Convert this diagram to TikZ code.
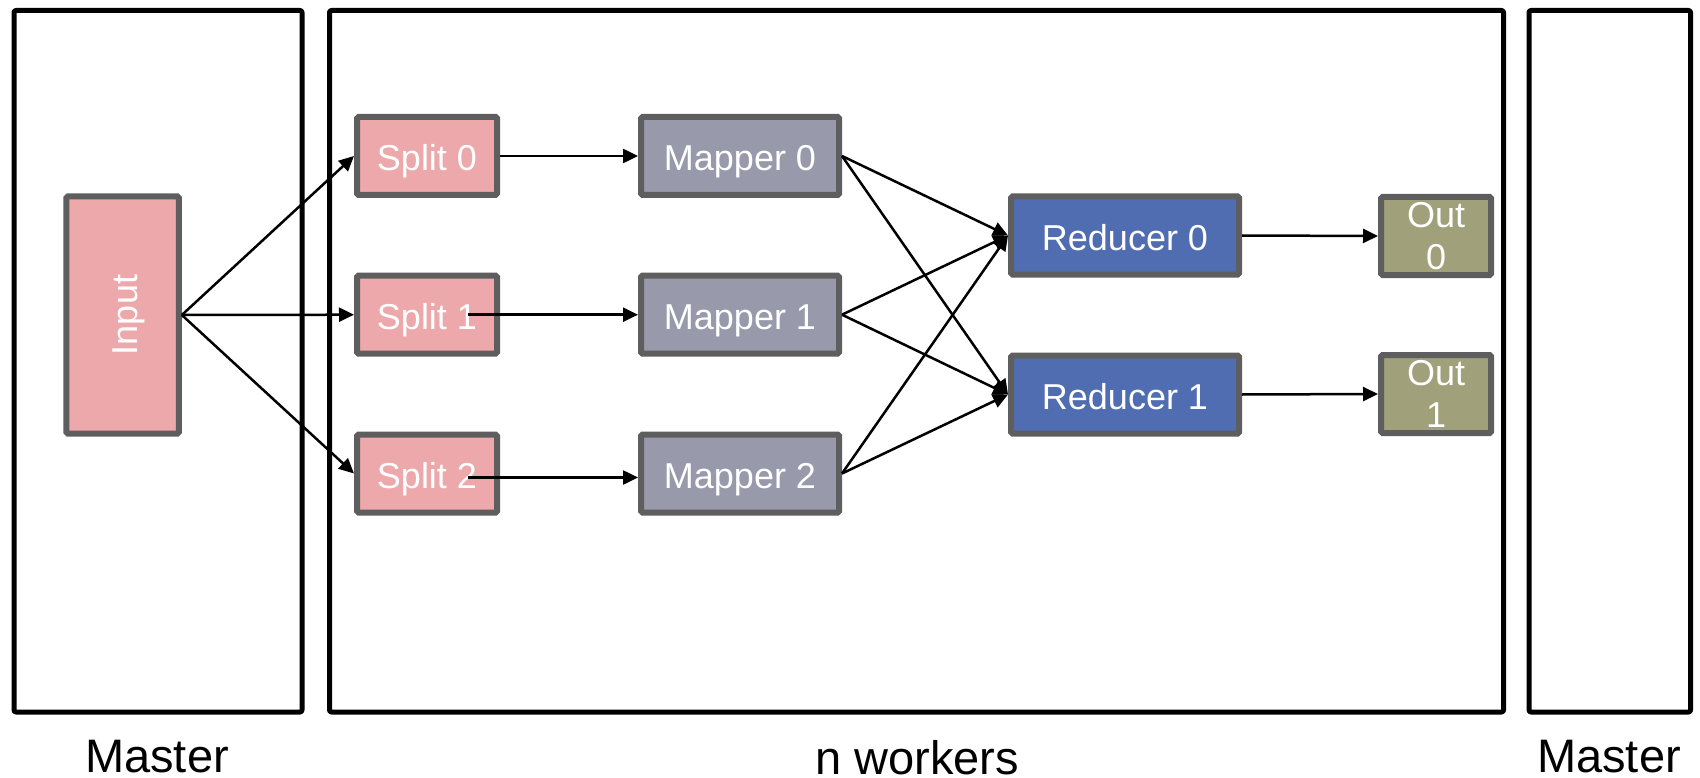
\documentclass[tikz,border=0pt]{standalone}
\usepackage{fontspec}
\setmainfont{Liberation Sans}
\usetikzlibrary{arrows.meta}

\definecolor{splitfill}{HTML}{EDA8AB}
\definecolor{mapfill}{HTML}{9899AB}
\definecolor{redfill}{HTML}{516DB1}
\definecolor{outfill}{HTML}{A0A07A}
\definecolor{nodeline}{HTML}{5E5E5E}

\tikzset{
  container/.style={draw=black, line width=5pt, line join=round, rounded corners=2pt},
  block/.style={draw=nodeline, line width=6pt, inner sep=0pt, text=white,
    font=\fontsize{36}{42.4}\selectfont, align=center, rounded corners=1.5pt,
    minimum height=78pt},
  oneline/.style={text height=29.5pt, text depth=0pt},
  splitbox/.style={block, oneline, fill=splitfill, minimum width=140pt},
  mapbox/.style={block, oneline, fill=mapfill, minimum width=198pt},
  redbox/.style={block, oneline, fill=redfill, minimum width=228pt},
  outbox/.style={block, fill=outfill, minimum width=110pt},
  flow/.style={draw=black, line width=2.5pt, -{Triangle[length=15pt,width=14pt]}},
  caption/.style={font=\fontsize{47}{54}\selectfont, anchor=base, inner sep=0pt}
}

\begin{document}
\begin{tikzpicture}[x=1pt, y=-1pt]
\useasboundingbox (0,0) rectangle (1700,778);

% containers
\draw[container] (14,10.5) rectangle (302,712);
\draw[container] (329.5,10.5) rectangle (1503.5,712);
\draw[container] (1529,10.5) rectangle (1690.5,712);

% input
\node[block, fill=splitfill, minimum width=112.5pt, minimum height=237pt] (in) at (122.6,315)
  {\hspace*{12.4pt}\rotatebox{90}{Input}};

% splits
\node[splitbox] (s0) at (427,156) {Split 0};
\node[splitbox] (s1) at (427,314.7) {Split 1};
\node[splitbox] (s2) at (427,473.5) {Split 2};

% mappers
\node[mapbox] (m0) at (740,156) {Mapper 0};
\node[mapbox] (m1) at (740,314.7) {Mapper 1};
\node[mapbox] (m2) at (740,473.5) {Mapper 2};

% reducers
\node[redbox] (r0) at (1125,235.5) {Reducer 0};
\node[redbox] (r1) at (1125,394.5) {Reducer 1};

% outputs
\node[outbox] (o0) at (1436,236) {Out\\0};
\node[outbox] (o1) at (1436,394) {Out\\1};

% input to splits
\draw[flow] (in.east) -- (s0.west);
\draw[flow] (in.east) -- (s1.west);
\draw[flow] (in.east) -- (s2.west);

% splits to mappers
\draw[flow] (s0.east) -- (m0.west);
\draw[flow] ([xshift=41pt]s1.center) -- (m1.west);
\draw[flow] ([xshift=41pt,yshift=-4pt]s2.center) -- ([yshift=-4pt]m2.west);

% shuffle
\foreach \m in {m0,m1,m2}{
  \draw[flow] (\m.east) -- (r0.west);
  \draw[flow] (\m.east) -- (r1.west);
}

% reducers to outputs
\draw[flow] (r0.east) -- (o0.west);
\draw[flow] (r1.east) -- (o1.west);

% captions
\node[caption] (lm) at (157,772) {Master};
\node[caption] (lw) at (917,774) {n workers};
\node[caption] (rm) at (1609,772) {Master};
\end{tikzpicture}
\end{document}
